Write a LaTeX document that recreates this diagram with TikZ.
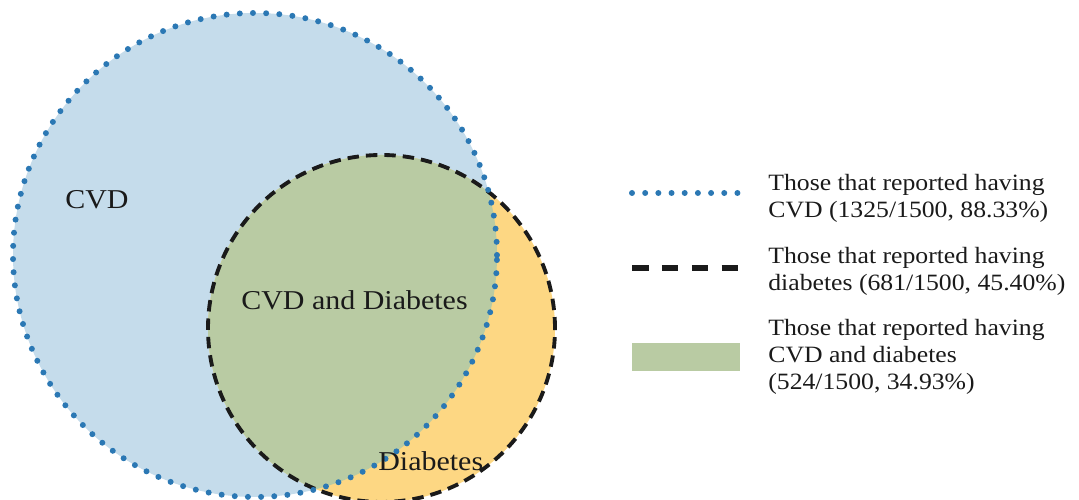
\documentclass[tikz,border=0pt]{standalone}
\usepackage{fontspec}
\setmainfont{Liberation Serif}
\newfontfamily\widefont[FakeStretch=1.1]{Liberation Serif}
\usetikzlibrary{calc}
\definecolor{cvdfill}{HTML}{C5DCEB}
\definecolor{diabfill}{HTML}{FDD783}
\definecolor{bothfill}{HTML}{B9CBA3}
\definecolor{dotblue}{HTML}{2B78B4}
\definecolor{ink}{HTML}{1A1A1A}
\tikzset{
  cvdline/.style={draw=dotblue, line width=3.4pt, line cap=round, dash pattern=on 0pt off 7.5pt},
  diabline/.style={draw=ink, line width=2.2pt, dash pattern=on 6.5pt off 4pt},
  legdash/.style={draw=ink, line width=3pt, dash pattern=on 9.4pt off 7.6pt},
  lab/.style={text=ink, anchor=west, inner xsep=0pt, font=\widefont\fontsize{15.5}{18}\selectfont},
  legtext/.style={text=ink, anchor=west, inner xsep=0pt, align=left, font=\widefont\fontsize{13.3}{15.3}\selectfont},
}

\begin{document}
\begin{tikzpicture}
  \useasboundingbox (0,0) rectangle (21.58,10);
  \coordinate (C) at (5.1,4.9);
  \coordinate (D) at (7.63,3.43);
  \def\cvdr{4.84}
  \def\diabr{3.47}

  % the two sets
  \fill[cvdfill] (C) circle (\cvdr);
  \fill[diabfill] (D) circle (\diabr);
  \begin{scope}
    \clip (C) circle (\cvdr);
    \fill[bothfill] (D) circle (\diabr);
  \end{scope}
  \draw[diabline] (D) circle (\diabr);
  \draw[cvdline] (C) circle (\cvdr);

  \node[lab] (cvd) at (1.3,6.0) {CVD};
  \node[lab] (both) at (4.82,4.0) {CVD and Diabetes};
  \node[lab] (diab) at (7.56,0.78) {Diabetes};

  % legend
  \coordinate (l1a) at (12.64,6.14);
  \coordinate (l1b) at (14.76,6.14);
  \draw[cvdline] (l1a) -- (l1b);
  \node[legtext] (leg1) at (15.36,6.03) {Those that reported having\\CVD (1325/1500, 88.33\%)};

  \coordinate (l2a) at (12.64,4.64);
  \coordinate (l2b) at (14.80,4.64);
  \draw[legdash] (l2a) -- (l2b);
  \node[legtext] (leg2) at (15.36,4.57) {Those that reported having\\diabetes (681/1500, 45.40\%)};

  \fill[bothfill] (12.64,2.58) rectangle (14.8,3.14);
  \node[legtext] (leg3) at (15.36,2.86) {Those that reported having\\CVD and diabetes\\(524/1500, 34.93\%)};
\end{tikzpicture}
\end{document}
